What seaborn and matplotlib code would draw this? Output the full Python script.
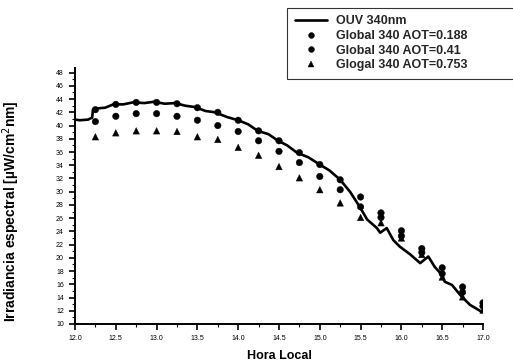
import numpy as np
import pandas as pd
import matplotlib
matplotlib.use("Agg")
import matplotlib.pyplot as plt
from matplotlib.ticker import MultipleLocator
import seaborn as sns

# ---- data ----
ouv_hours = [12.00, 12.06, 12.16, 12.21, 12.22, 12.28, 12.37, 12.47, 12.59, 12.71,
             12.85, 12.97, 13.10, 13.23, 13.35, 13.47, 13.60, 13.72, 13.86, 14.00,
             14.12, 14.24, 14.37, 14.49, 14.60, 14.72, 14.86, 15.00, 15.12, 15.25,
             15.37, 15.49, 15.58, 15.70, 15.74, 15.82, 15.90, 15.98, 16.11, 16.23,
             16.33, 16.41, 16.50, 16.53, 16.62, 16.72, 16.84, 16.99]
ouv_values = [40.9, 40.8, 40.9, 41.2, 42.4, 42.6, 42.7, 43.2, 43.2, 43.5,
              43.4, 43.6, 43.3, 43.4, 43.0, 42.8, 42.2, 42.0, 41.3, 40.8,
              40.2, 39.2, 38.7, 37.7, 37.0, 35.9, 35.2, 34.1, 33.2, 31.8,
              30.0, 27.7, 25.8, 24.5, 23.8, 24.5, 22.7, 21.7, 20.5, 19.2,
              20.2, 18.6, 17.4, 16.4, 15.9, 14.4, 12.9, 11.8]

global_hours = [12.25, 12.50, 12.75, 13.00, 13.25, 13.50, 13.75, 14.00, 14.25, 14.50,
                14.75, 15.00, 15.25, 15.50, 15.75, 16.00, 16.25, 16.50, 16.75, 17.00]
aot_0188 = [42.4, 43.2, 43.5, 43.5, 43.3, 42.7, 42.0, 40.8, 39.2, 37.7,
            35.9, 34.1, 31.8, 29.2, 26.8, 24.1, 21.4, 18.5, 15.6, 13.2]
aot_041 = [40.6, 41.4, 41.8, 41.8, 41.4, 40.8, 40.0, 39.1, 37.7, 36.1,
           34.4, 32.3, 30.3, 27.7, 26.1, 23.3, 20.8, 17.6, 14.8, 12.7]
aot_0753 = [38.3, 38.9, 39.2, 39.2, 39.1, 38.3, 37.9, 36.7, 35.5, 33.8,
            32.1, 30.3, 28.3, 26.1, 25.3, 23.0, 20.5, 17.1, 14.1, 12.1]

labels = ["OUV 340nm", "Global 340 AOT=0.188", "Global 340 AOT=0.41", "Glogal 340 AOT=0.753"]
x_ticks = [12.0, 12.5, 13.0, 13.5, 14.0, 14.5, 15.0, 15.5, 16.0, 16.5, 17.0]
y_ticks = list(range(10, 49, 2))

# ---- plotting ----
sns.set_theme(style="ticks")
plt.rcParams["font.family"] = ["Liberation Sans", "DejaVu Sans"]

fig = plt.figure(figsize=(5.13, 3.64), dpi=100)
ax = fig.add_axes([75 / 513, 1 - 324 / 364, 408 / 513, (324 - 68) / 364])

df_line = pd.DataFrame({"hora": ouv_hours, "irr": ouv_values})
sns.lineplot(data=df_line, x="hora", y="irr", ax=ax, color="black", lw=1.9,
             label=labels[0], sort=True, estimator=None)

df_pts = pd.DataFrame({
    "hora": global_hours * 3,
    "irr": aot_0188 + aot_041 + aot_0753,
    "serie": [labels[1]] * len(global_hours) + [labels[2]] * len(global_hours)
             + [labels[3]] * len(global_hours),
})
sns.scatterplot(data=df_pts, x="hora", y="irr", hue="serie", style="serie",
                markers={labels[1]: "o", labels[2]: "o", labels[3]: "^"},
                palette={labels[1]: "black", labels[2]: "black", labels[3]: "black"},
                s=22, edgecolor="black", linewidth=0.3, ax=ax)

ax.set_xlim(12.0, 17.0)
ax.set_ylim(10, 48.7)
ax.set_xticks(x_ticks)
ax.set_xticklabels([f"{v:.1f}" for v in x_ticks], fontsize=5)
ax.set_yticks(y_ticks)
ax.set_yticklabels([str(v) for v in y_ticks], fontsize=5)
ax.xaxis.set_minor_locator(MultipleLocator(0.25))
ax.yaxis.set_minor_locator(MultipleLocator(1))
ax.tick_params(axis="both", which="major", direction="out", length=4, width=1.2,
               color="black", pad=4, labelcolor="black")
ax.tick_params(axis="both", which="minor", direction="out", length=2, width=0.8,
               color="black")
for sp in ["top", "right"]:
    ax.spines[sp].set_visible(False)
for sp in ["left", "bottom"]:
    ax.spines[sp].set_color("black")
    ax.spines[sp].set_linewidth(1.4)

ax.set_xlabel("Hora Local", fontsize=9, fontweight="bold", labelpad=6, color="black")
ax.set_ylabel("Irradiancia espectral [µW/cm$^2$nm]", fontsize=10, fontweight="bold",
              color="black")
ax.yaxis.set_label_coords((22 - 75) / 408, (324 - 211) / 256)

handles, lbls = ax.get_legend_handles_labels()
leg = ax.legend(handles, lbls, loc="upper left", mode="expand",
                bbox_to_anchor=(287 / 513, 1 - 80 / 364, 250 / 513, 72 / 364),
                bbox_transform=fig.transFigure,
                prop={"size": 9, "weight": "bold"}, frameon=True, fancybox=False,
                edgecolor="black", handlelength=2.6, handletextpad=0.7,
                borderpad=0.6, labelspacing=0.2, borderaxespad=0.0,
                markerscale=0.9)
leg.get_frame().set_linewidth(0.8)

fig.savefig("out.png", dpi=100, facecolor="white")
